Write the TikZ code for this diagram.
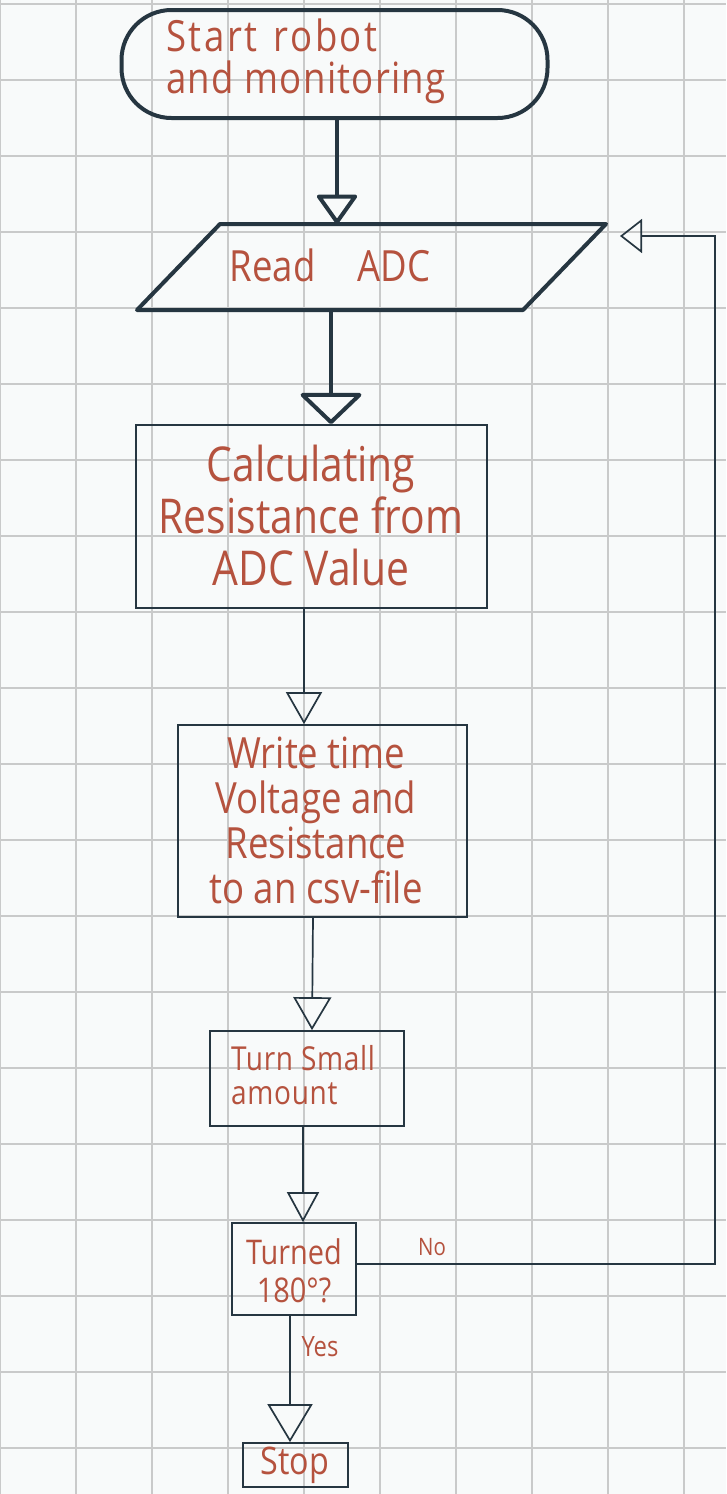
\documentclass[tikz,border=0pt]{standalone}
\usepackage{fontspec}
\setmainfont{Open Sans}[FakeStretch=0.85]
\usetikzlibrary{arrows.meta}
\definecolor{ink}{HTML}{263641}
\definecolor{inkred}{HTML}{B5523E}
\definecolor{paper}{HTML}{F8FAFA}
\definecolor{gridc}{HTML}{C9CACA}
\tikzset{
  gridline/.style={gridc, line width=1.4pt},
  heavyline/.style={ink, line width=4pt, line join=round},
  lightline/.style={ink, line width=1.7pt},
  procbox/.style={draw=ink, line width=1.7pt, rectangle, inner sep=0pt},
  txt/.style={text=inkred, inner sep=0pt},
}
\begin{document}
\begin{tikzpicture}[x=1pt,y=-1pt]
\useasboundingbox (0,0) rectangle (726,1494);
\fill[paper] (0,0) rectangle (726,1494);
\foreach \i in {0,...,9} \draw[gridline] ({76*\i},0) -- ({76*\i},1494);
\foreach \j in {0,...,19} \draw[gridline] (0,{4+76*\j}) -- (726,{4+76*\j});

% start terminal
\node[draw=ink, line width=4pt, rounded corners=50pt, minimum width=426pt, minimum height=108pt, inner sep=0pt] (start) at (334.5,64) {};
\node[txt, anchor=west, align=left, font=\fontsize{43pt}{42pt}\selectfont] (starttxt) at (166,61) {{\addfontfeatures{LetterSpace=6}Start\hspace{16pt}robot}\\{\addfontfeatures{LetterSpace=3}and monitoring}};

% read ADC parallelogram
\coordinate (rTL) at (220,224);
\coordinate (rTR) at (606,224);
\coordinate (rBR) at (523,310);
\coordinate (rBL) at (137,310);
\draw[heavyline] (rTL) -- (rTR) -- (rBR) -- (rBL) -- cycle;
\coordinate (readN) at (337,224);
\coordinate (readS) at (331,310);
\node[txt, font=\fontsize{43pt}{44pt}\selectfont] (readtxt) at (330,265) {Read\hspace{42pt}ADC};

% process boxes
\node[procbox, minimum width=351pt, minimum height=183pt] (calc) at (311.5,516.5) {};
\node[txt, align=center, font=\fontsize{48pt}{52pt}\selectfont] (calctxt) at (311,515) {Calculating\\Resistance from\\ADC Value};

\node[procbox, minimum width=289pt, minimum height=192pt] (write) at (322.5,821) {};
\node[txt, align=center, font=\fontsize{43pt}{45pt}\selectfont] (writetxt) at (316,820) {Write time\\Voltage and\\Resistance\\to an csv-file};

\node[procbox, minimum width=194pt, minimum height=95pt] (turn) at (307,1078.5) {};
\node[txt, anchor=west, align=left, font=\fontsize{33pt}{34pt}\selectfont\addfontfeatures{LetterSpace=2}] (turntxt) at (231,1075) {Turn Small\\amount};

\node[procbox, minimum width=124pt, minimum height=92pt] (turned) at (294,1269) {};
\node[txt, align=center, font=\fontsize{34pt}{38pt}\selectfont] (turnedtxt) at (294,1271) {Turned\\180°?};

\node[procbox, minimum width=105pt, minimum height=44pt] (stop) at (295.5,1465) {};
\node[txt, font=\fontsize{38pt}{40pt}\selectfont] (stoptxt) at (295,1465) {Stop};

% connectors
\draw[heavyline, -{Triangle[open, round, length=31pt, width=43pt]}] ([xshift=2.5pt]start.south) -- (readN);
\draw[heavyline, -{Triangle[open, round, length=32pt, width=66pt]}] (readS) -- ([xshift=19.5pt]calc.north);
\draw[lightline, -{Triangle[open, length=32pt, width=36pt]}] ([xshift=-7.5pt]calc.south) -- ([xshift=-18.5pt]write.north);
\draw[lightline, -{Triangle[open, length=33pt, width=38pt]}] ([xshift=-9.5pt]write.south) -- ([xshift=5pt]turn.north);
\draw[lightline, -{Triangle[open, length=30pt, width=32pt]}] ([xshift=-4pt]turn.south) -- ([xshift=9pt]turned.north);
\draw[lightline, -{Triangle[open, length=38pt, width=45pt]}] ([xshift=-4pt]turned.south) -- ([xshift=-5.5pt]stop.north);

\coordinate (fbcorner) at (715,236);
\coordinate (fbend) at (620,236);
\draw[lightline, -{Triangle[open, length=22pt, width=34pt]}] ([yshift=5pt]turned.east) -| (fbcorner) -- (fbend);

\node[txt, font=\fontsize{24pt}{26pt}\selectfont] (nolbl) at (432,1247) {No};
\node[txt, font=\fontsize{28pt}{30pt}\selectfont] (yeslbl) at (320,1347) {Yes};
\end{tikzpicture}
\end{document}
